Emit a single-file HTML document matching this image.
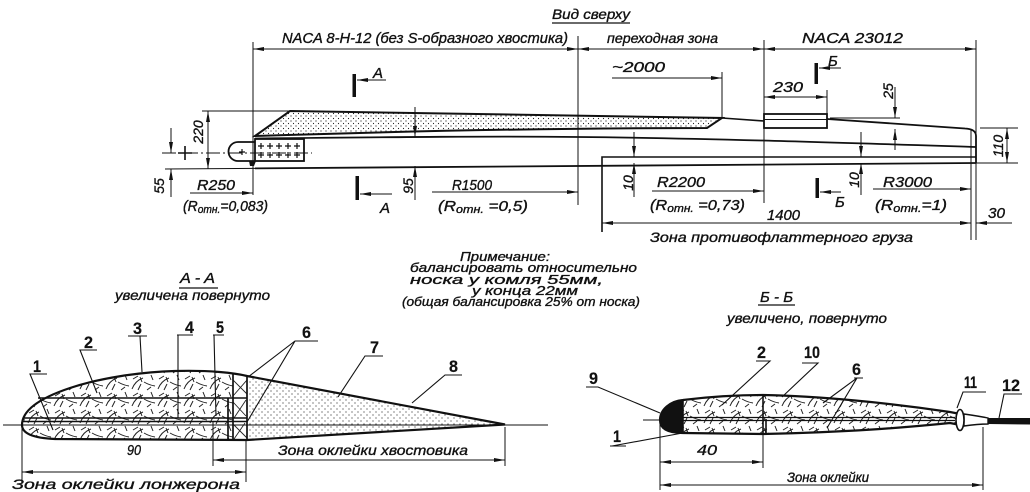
<!DOCTYPE html>
<html><head><meta charset="utf-8">
<style>
html,body{margin:0;padding:0;background:#fff;}
svg{display:block;}
text{font-family:"Liberation Sans","DejaVu Sans",sans-serif;font-style:italic;fill:#111;stroke:#111;stroke-width:0.35;}
.b{font-style:normal;font-weight:bold;stroke-width:0.2;}
</style></head><body>
<svg width="1030" height="492" viewBox="0 0 1030 492" xmlns="http://www.w3.org/2000/svg">
<defs>
<marker id="ar" markerWidth="11" markerHeight="4" refX="11" refY="2" orient="auto-start-reverse" markerUnits="userSpaceOnUse"><path d="M0,0 L11,2 L0,4 z" fill="#111"/></marker>
<pattern id="dots" width="5" height="5" patternUnits="userSpaceOnUse"><circle cx="1" cy="1" r="0.6" fill="#222"/><circle cx="3.5" cy="3.5" r="0.6" fill="#222"/></pattern>
<pattern id="dots2" width="6" height="6" patternUnits="userSpaceOnUse"><circle cx="1" cy="1" r="0.6" fill="#333"/><circle cx="4" cy="4" r="0.6" fill="#333"/></pattern>
<pattern id="wood" width="26" height="17" patternUnits="userSpaceOnUse"><path d="M2,15 Q5,7 13,4 M8,16 L11,10 M14,8 Q19,11 25,12 M17,16 L21,13 M3,5 L8,2 M21,1 L23,6 M10,3 L12,8" stroke="#222" stroke-width="1" fill="none"/></pattern>
<clipPath id="cA"><path d="M22,425 C22,410 40,398 70,388 C100,378 140,372 175,371 C210,370 235,373 247,376 L505,424.5 L247,440 L55,439 C32,438 22,433 22,425 Z"/></clipPath>
<clipPath id="cB"><path d="M660,420 C660,410 670,401 683,400 C715,396 740,395 763,395 C820,396 890,403 950,412 L963,414.5 L963,425.5 L950,423 C900,428 850,432 763,434 L683,433 C670,433 660,430 660,420 Z"/></clipPath>
</defs>

<!-- ===== TOP VIEW ===== -->
<text x="552" y="19" font-size="14" textLength="78" lengthAdjust="spacingAndGlyphs">Вид сверху</text>
<path d="M552,23 H630" stroke="#111" stroke-width="1.2"/>
<text x="282" y="43" font-size="15" textLength="286" lengthAdjust="spacingAndGlyphs">NACA  8-H-12 (без S-образного хвостика)</text>
<text x="607" y="43" font-size="14" textLength="111" lengthAdjust="spacingAndGlyphs">переходная зона</text>
<text x="802" y="43" font-size="15" textLength="101" lengthAdjust="spacingAndGlyphs">NACA  23012</text>

<g fill="none" stroke="#111">
<path d="M255,136 L290,111 L722,118 L707,128 Q500,128 255,136 Z" fill="url(#dots)" stroke-width="2"/>
<path d="M722,118 L764,121" stroke-width="1.6"/>
<rect x="764" y="114" width="63" height="14" stroke-width="1.8"/>
<path d="M764,119.5 H827" stroke-width="1"/>
<path d="M827,119 L965,128.5 Q976,129 976,136 L976,163" stroke-width="1.8"/>
<path d="M255,138.5 C400,137 500,136 578,137 C700,138 850,143 976,147" stroke-width="1.8"/>
<path d="M602,232 V157 H976" stroke-width="1.6"/>
<path d="M165,169 L255,168.4" stroke-width="1"/>
<path d="M255,168.4 L976,163" stroke-width="1.8"/>
<path d="M255,142 H238 A9.5,9.5 0 0 0 238,161 H255" stroke-width="1.8" fill="#fff"/>
<rect x="255" y="139" width="49" height="22" stroke-width="1.8" fill="#fff"/>
<path d="M258,146 H264 M261,143 V149 M267,146 H273 M270,143 V149 M276,146 H282 M279,143 V149 M285,146 H291 M288,143 V149 M294,146 H300 M297,143 V149
M258,155 H264 M261,152 V158 M267,155 H273 M270,152 V158 M276,155 H282 M279,152 V158 M285,155 H291 M288,152 V158 M294,155 H300 M297,152 V158
M239,152 H245 M242,149 V155" stroke-width="1.2"/>
<path d="M249,161 L256,161 L254,166 L250,166 Z" fill="#111" stroke="none"/>

<path d="M162,153 H312" stroke-width="0.9" stroke-dasharray="14 3 2 3"/>
<path d="M185,146 V160 M178,153 H192" stroke-width="1.6"/>

<g stroke-width="1">
<path d="M253,42 V195 M578,36 V205 M764,40 V203 M976,40 V240 M971,129 V240"/>
<path d="M202,111 H290"/>
<path d="M722,72 V118 M827,90 V114"/>
<path d="M830,118 H900"/>
<path d="M980,128 H1018 M976,163 H1018"/>
</g>
<g stroke-width="1" marker-start="url(#ar)" marker-end="url(#ar)">
<path d="M253,49 H578"/><path d="M578,49 H764"/><path d="M764,49 H976"/>
<path d="M208,111 V169"/>
<path d="M764,97 H827"/>
<path d="M1007,128 V163"/>
<path d="M602,223 H971"/>
</g>
<g stroke-width="1" marker-end="url(#ar)">
<path d="M171,128 V153"/><path d="M171,197 V169"/>
<path d="M415,107 V137"/><path d="M415,200 V166"/>
<path d="M612,78 H722"/>
<path d="M895,87 V118"/><path d="M895,150 V129"/>
<path d="M634,132 V157"/><path d="M634,197 V163"/>
<path d="M861,132 V157"/><path d="M861,195 V163"/>
<path d="M190,193 H253"/>
<path d="M432,192 H578"/>
<path d="M652,191 H764"/>
<path d="M873,189 H971"/>
<path d="M1012,223 H976"/>
<path d="M386,80 H357"/><path d="M392,194 H360"/>
<path d="M841,68 H819"/><path d="M841,192 H820"/>
</g>
</g>
<g fill="#111">
<rect x="352.5" y="74" width="3.5" height="23"/>
<rect x="355.5" y="176" width="3.5" height="24"/>
<rect x="814.5" y="63" width="3.5" height="21"/>
<rect x="815.5" y="178" width="3.5" height="20"/>
</g>
<text x="373" y="78" font-size="15">A</text>
<text x="380" y="213" font-size="15">A</text>
<text x="828" y="66" font-size="15">Б</text>
<text x="835" y="207" font-size="15">Б</text>

<text transform="translate(203,132) rotate(-90)" font-size="14" text-anchor="middle">220</text>
<text transform="translate(164,186) rotate(-90)" font-size="14" text-anchor="middle">55</text>
<text transform="translate(413,186) rotate(-90)" font-size="14" text-anchor="middle">95</text>
<text transform="translate(893,91) rotate(-90)" font-size="14" text-anchor="middle">25</text>
<text transform="translate(859,180) rotate(-90)" font-size="14" text-anchor="middle">10</text>
<text transform="translate(633,183) rotate(-90)" font-size="14" text-anchor="middle">10</text>
<text transform="translate(1003,146) rotate(-90)" font-size="14" text-anchor="middle">110</text>

<text x="612" y="72" font-size="15" textLength="53" lengthAdjust="spacingAndGlyphs">~2000</text>
<text x="773" y="92" font-size="15" textLength="30" lengthAdjust="spacingAndGlyphs">230</text>
<text x="197" y="190" font-size="15" textLength="38" lengthAdjust="spacingAndGlyphs">R250</text>
<text x="183" y="211" font-size="15" textLength="85" lengthAdjust="spacingAndGlyphs">(R<tspan font-size="11" dy="2">отн.</tspan><tspan dy="-2">=0,083)</tspan></text>
<text x="452" y="190" font-size="15" textLength="40" lengthAdjust="spacingAndGlyphs">R1500</text>
<text x="438" y="211" font-size="15" textLength="90" lengthAdjust="spacingAndGlyphs">(R<tspan font-size="11" dy="2">отн.</tspan><tspan dy="-2"> =0,5)</tspan></text>
<text x="657" y="187" font-size="15" textLength="48" lengthAdjust="spacingAndGlyphs">R2200</text>
<text x="650" y="210" font-size="15" textLength="95" lengthAdjust="spacingAndGlyphs">(R<tspan font-size="11" dy="2">отн.</tspan><tspan dy="-2"> =0,73)</tspan></text>
<text x="883" y="187" font-size="15" textLength="49" lengthAdjust="spacingAndGlyphs">R3000</text>
<text x="875" y="210" font-size="15" textLength="72" lengthAdjust="spacingAndGlyphs">(R<tspan font-size="11" dy="2">отн.</tspan><tspan dy="-2">=1)</tspan></text>
<text x="767" y="220" font-size="15" textLength="33" lengthAdjust="spacingAndGlyphs">1400</text>
<text x="988" y="218" font-size="15" textLength="17" lengthAdjust="spacingAndGlyphs">30</text>
<text x="650" y="242" font-size="14" textLength="263" lengthAdjust="spacingAndGlyphs">Зона   противофлаттерного груза</text>

<!-- ===== NOTE ===== -->
<text x="460" y="261" font-size="13" textLength="90" lengthAdjust="spacingAndGlyphs">Примечание:</text>
<text x="410" y="272" font-size="13" textLength="227" lengthAdjust="spacingAndGlyphs">балансировать  относительно</text>
<text x="410" y="284" font-size="13" textLength="193" lengthAdjust="spacingAndGlyphs">носка  у комля  55мм,</text>
<text x="472" y="295" font-size="13" textLength="106" lengthAdjust="spacingAndGlyphs">у конца  22мм</text>
<text x="402" y="306" font-size="13" textLength="238" lengthAdjust="spacingAndGlyphs">(общая балансировка 25% от носка)</text>

<!-- ===== SECTION A-A ===== -->
<text x="180" y="283" font-size="15" textLength="35" lengthAdjust="spacingAndGlyphs">A - A</text>
<path d="M179,288 H218" stroke="#111" stroke-width="1.2"/>
<text x="115" y="300" font-size="14" textLength="155" lengthAdjust="spacingAndGlyphs">увеличена повернуто</text>

<g clip-path="url(#cA)">
<rect x="0" y="360" width="247" height="90" fill="url(#wood)"/>
<rect x="247" y="360" width="270" height="90" fill="url(#dots2)"/>
<rect x="233" y="370" width="14" height="72" fill="#fff"/>
<path d="M233,380 L247,394 M247,380 L233,396 M233,402 L246,416 M246,400 L234,418 M233,424 L247,438 M245,423 L234,439" stroke="#222" stroke-width="0.9"/>
</g>
<g fill="none" stroke="#111">
<path d="M22,425 C22,410 40,398 70,388 C100,378 140,372 175,371 C210,370 235,373 247,376 L505,424.5 L247,440 L55,439 C32,438 22,433 22,425 Z" stroke-width="2.2"/>
<path d="M38,398 H247 M24,418 H247 M23,421.5 H247" stroke-width="1.6"/>
<path d="M228,398 V440 M233,373 V440 M247,376 V440" stroke-width="1.7"/>
<path d="M3,425 H548" stroke-width="1"/>
<g stroke-width="1.1">
<path d="M47,374 H30 L53,430"/>
<path d="M97,350 H80 L97,393"/>
<path d="M147,336 H128 M140,336 L142,372"/>
<path d="M193,335 H177 M178,335 V418"/>
<path d="M224,335 H213 M214,335 L216,416"/>
<path d="M318,341 H295 L248,377 M295,341 L247,422"/>
<path d="M383,356 H365 L338,397"/>
<path d="M462,375 H445 L412,403"/>
</g>
<g stroke-width="1">
<path d="M22,427 V482 M246,441 V482 M213,422 V466 M505,427 V466"/>
<path d="M22,472 H246" marker-start="url(#ar)" marker-end="url(#ar)"/>
<path d="M213,460 H505" marker-start="url(#ar)" marker-end="url(#ar)"/>
</g>
</g>
<g font-size="17">
<text class="b" x="33" y="372" textLength="8" lengthAdjust="spacingAndGlyphs">1</text>
<text class="b" x="84" y="348" textLength="9" lengthAdjust="spacingAndGlyphs">2</text>
<text class="b" x="133" y="334" textLength="9" lengthAdjust="spacingAndGlyphs">3</text>
<text class="b" x="185" y="333" textLength="9" lengthAdjust="spacingAndGlyphs">4</text>
<text class="b" x="216" y="333" textLength="8" lengthAdjust="spacingAndGlyphs">5</text>
<text class="b" x="302" y="338" textLength="9" lengthAdjust="spacingAndGlyphs">6</text>
<text class="b" x="370" y="353" textLength="9" lengthAdjust="spacingAndGlyphs">7</text>
<text class="b" x="449" y="372" textLength="9" lengthAdjust="spacingAndGlyphs">8</text>
</g>
<text x="127" y="455" font-size="15" textLength="14" lengthAdjust="spacingAndGlyphs">90</text>
<text x="12" y="489" font-size="14" textLength="228" lengthAdjust="spacingAndGlyphs">Зона  оклейки  лонжерона</text>
<text x="278" y="455" font-size="14" textLength="190" lengthAdjust="spacingAndGlyphs">Зона  оклейки  хвостовика</text>

<!-- ===== SECTION Б-Б ===== -->
<text x="760" y="302" font-size="15" textLength="33" lengthAdjust="spacingAndGlyphs">Б - Б</text>
<path d="M758,305 H795" stroke="#111" stroke-width="1.2"/>
<text x="727" y="323" font-size="14" textLength="160" lengthAdjust="spacingAndGlyphs">увеличено, повернуто</text>

<g clip-path="url(#cB)">
<rect x="683" y="390" width="280" height="50" fill="url(#wood)"/>
<rect x="655" y="390" width="28" height="50" fill="#111"/>
</g>
<g fill="none" stroke="#111">
<path d="M660,420 C660,410 670,401 683,400 C715,396 740,395 763,395 C820,396 890,403 950,412 L963,414.5 L963,425.5 L950,423 C900,428 850,432 763,434 L683,433 C670,433 660,430 660,420 Z" stroke-width="2.2"/>
<path d="M683,417.5 H955 M683,420.5 H955" stroke-width="1.3"/>
<path d="M683,400 V433 M763,395 V434 M766,419 V434" stroke-width="1.6"/>
<path d="M643,420 H660" stroke-width="1"/>
<path d="M964,414 Q978,416 988,418 L988,424 Q978,424 964,426 Z" stroke-width="1.4" fill="#fff"/>
<ellipse cx="960" cy="420" rx="4" ry="10.5" stroke-width="1.6" fill="#fff"/>
<g stroke-width="1.1">
<path d="M586,387 H598 L660,413"/>
<path d="M626,446 H610 M612,446 L688,432"/>
<path d="M756,361 H770 L722,405"/>
<path d="M802,363 H818 L782,397"/>
<path d="M863,378 H854 M857,378 L823,403 M857,378 L827,428"/>
<path d="M986,392 H963 L957,408"/>
<path d="M1022,394 H1004 L999,418"/>
</g>
<g stroke-width="1">
<path d="M660,424 V490 M763,434 V468 M983,427 V490"/>
<path d="M660,462 H763" marker-start="url(#ar)" marker-end="url(#ar)"/>
<path d="M660,485 H983" marker-start="url(#ar)" marker-end="url(#ar)"/>
</g>
</g>
<path d="M988,418 L1030,418 L1030,424.5 L988,424 Z" fill="#111"/>
<g font-size="17">
<text class="b" x="589" y="384" textLength="9" lengthAdjust="spacingAndGlyphs">9</text>
<text class="b" x="613" y="442" textLength="8" lengthAdjust="spacingAndGlyphs">1</text>
<text class="b" x="757" y="358" textLength="9" lengthAdjust="spacingAndGlyphs">2</text>
<text class="b" x="804" y="358" textLength="16" lengthAdjust="spacingAndGlyphs">10</text>
<text class="b" x="852" y="375" textLength="9" lengthAdjust="spacingAndGlyphs">6</text>
<text class="b" x="964" y="388" textLength="13" lengthAdjust="spacingAndGlyphs">11</text>
<text class="b" x="1002" y="391" textLength="18" lengthAdjust="spacingAndGlyphs">12</text>
</g>
<text x="697" y="455" font-size="15" textLength="20" lengthAdjust="spacingAndGlyphs">40</text>
<text x="787" y="482" font-size="14" textLength="82" lengthAdjust="spacingAndGlyphs">Зона  оклейки</text>
</svg>
</body></html>
